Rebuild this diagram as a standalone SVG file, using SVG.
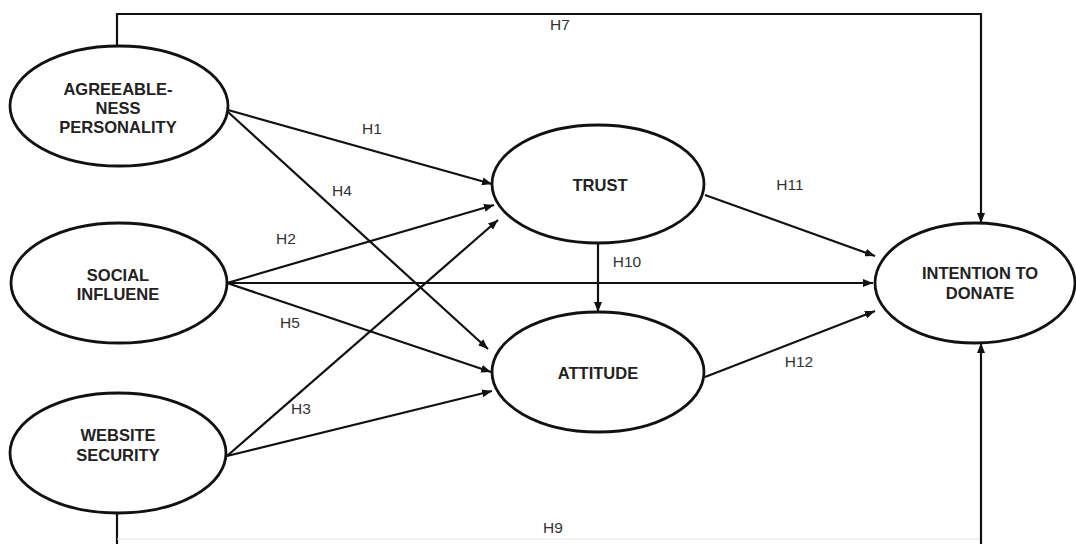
<svg xmlns="http://www.w3.org/2000/svg" width="1076" height="544" viewBox="0 0 1076 544">
<style>
.node{fill:#fff;stroke:#111;stroke-width:2.8}
.nt{font-family:"Liberation Sans",Arial,sans-serif;font-size:16.5px;font-weight:bold;fill:#222;text-anchor:middle}
.lb{font-family:"Liberation Sans",Arial,sans-serif;font-size:15.5px;fill:#333;text-anchor:middle}
.c{fill:none;stroke:#111;stroke-width:2.2}
.a{marker-end:url(#ah)}
</style>
<defs>
<marker id="ah" viewBox="0 0 10 8" refX="10" refY="4" markerWidth="10" markerHeight="8" markerUnits="userSpaceOnUse" orient="auto">
<path d="M0,0 L10,4 L0,8 Z" fill="#111"/>
</marker>
</defs>
<rect width="1076" height="544" fill="#fff"/>
<g id="connectors">
<polyline class="c a" points="117,46 117,14 981,14 981,223"/>
<polyline class="c" points="117,513 117,544"/>
<line x1="117" y1="539" x2="981" y2="539" stroke="#e4e4e4" stroke-width="1"/>
<line class="c a" x1="981" y1="544" x2="981" y2="343"/>
<line class="c a" x1="228" y1="110" x2="492" y2="184"/>
<line class="c a" x1="228" y1="112" x2="488" y2="349"/>
<line class="c a" x1="227" y1="283" x2="494" y2="205"/>
<line class="c a" x1="227" y1="283" x2="873" y2="283"/>
<line class="c a" x1="227" y1="283" x2="491" y2="372"/>
<line class="c a" x1="227" y1="456" x2="498" y2="220"/>
<line class="c a" x1="227" y1="456" x2="492" y2="391"/>
<line class="c a" x1="598" y1="243" x2="598" y2="312"/>
<line class="c a" x1="705" y1="195" x2="875" y2="256"/>
<line class="c a" x1="705" y1="377" x2="875" y2="311"/>
<text class="lb" x="560" y="30">H7</text>
<text class="lb" x="553" y="533">H9</text>
<text class="lb" x="372" y="134">H1</text>
<text class="lb" x="342" y="196">H4</text>
<text class="lb" x="286" y="244">H2</text>
<text class="lb" x="290" y="328">H5</text>
<text class="lb" x="301" y="414">H3</text>
<text class="lb" x="627" y="267">H10</text>
<text class="lb" x="790" y="190">H11</text>
<text class="lb" x="799" y="367">H12</text>
</g>
<g id="agreeableness">
<ellipse class="node" cx="119" cy="106" rx="109" ry="60"/>
<text class="nt" x="118" y="95">AGREEABLE-</text>
<text class="nt" x="118" y="114">NESS</text>
<text class="nt" x="118" y="133">PERSONALITY</text>
</g>
<g id="social">
<ellipse class="node" cx="119" cy="283" rx="108" ry="60"/>
<text class="nt" x="118" y="281">SOCIAL</text>
<text class="nt" x="118" y="300">INFLUENE</text>
</g>
<g id="website">
<ellipse class="node" cx="118" cy="453" rx="108" ry="60"/>
<text class="nt" x="118" y="441">WEBSITE</text>
<text class="nt" x="118" y="461">SECURITY</text>
</g>
<g id="trust">
<ellipse class="node" cx="598" cy="184" rx="106" ry="59"/>
<text class="nt" x="600" y="191">TRUST</text>
</g>
<g id="attitude">
<ellipse class="node" cx="598" cy="372" rx="106" ry="60"/>
<text class="nt" x="598" y="379">ATTITUDE</text>
</g>
<g id="intention">
<ellipse class="node" cx="975" cy="283" rx="100" ry="60"/>
<text class="nt" x="980" y="279">INTENTION TO</text>
<text class="nt" x="980" y="299">DONATE</text>
</g>
</svg>
